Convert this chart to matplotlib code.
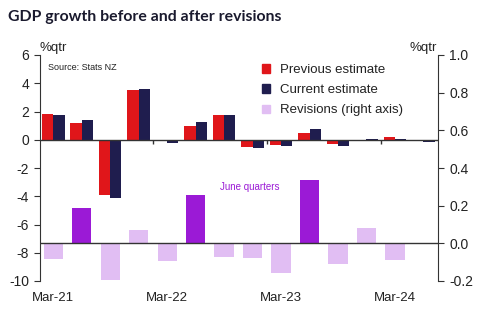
import matplotlib
matplotlib.use("Agg")
import matplotlib.pyplot as plt
from matplotlib.patches import Patch
import numpy as np

quarters = ["Mar-21", "Jun-21", "Sep-21", "Dec-21", "Mar-22", "Jun-22", "Sep-22",
            "Dec-22", "Mar-23", "Jun-23", "Sep-23", "Dec-23", "Mar-24", "Jun-24"]
previous = [1.84, 1.22, -3.94, 3.53, -0.12, 0.99, 1.76, -0.52, -0.35, 0.47, -0.31, 0.0, 0.16, 0.0]
current = [1.74, 1.41, -4.12, 3.60, -0.21, 1.27, 1.72, -0.59, -0.47, 0.78, -0.42, 0.03, 0.07, -0.19]
revisions = [-0.085, 0.19, -0.195, 0.07, -0.095, 0.255, -0.07, -0.078, -0.158, 0.335, -0.108, 0.083, -0.09, 0.0]
xtick_labels = ["Mar-21", "Mar-22", "Mar-23", "Mar-24"]
left_ticks = [6, 4, 2, 0, -2, -4, -6, -8, -10]
right_ticks = [1.0, 0.8, 0.6, 0.4, 0.2, 0.0, -0.2]

RED = "#E0161A"
NAVY = "#1F1D4E"
PURPLE = "#9B1AD6"
LAVENDER = "#E1BEF3"
AXC = "#333333"

plt.rcParams["font.family"] = ["Liberation Sans", "DejaVu Sans"]

fig = plt.figure(figsize=(5.01, 3.22), dpi=100)
ax = fig.add_axes([40/501, 1-281/322, (438-40)/501, (281-55)/322])
ax2 = ax.twinx()

x = np.arange(len(quarters))
w = 0.4
ax.bar(x - w/2, previous, width=w, color=RED, zorder=3)
ax.bar(x + w/2, current, width=w, color=NAVY, zorder=3)

rev_colors = [PURPLE if q.startswith("Jun") else LAVENDER for q in quarters]
ax2.bar(x, revisions, width=0.67, color=rev_colors, zorder=3)

ax.set_ylim(-10, 6)
ax2.set_ylim(-0.2, 1.0)
ax.set_xlim(-0.46, 13.51)

ax.axhline(0, color=AXC, lw=1, zorder=4)
ax2.axhline(0, color=AXC, lw=1, zorder=4)
ax.vlines([3.5, 7.5, 11.5], -0.3, 0, color=AXC, lw=1, zorder=4)

for a in (ax, ax2):
    a.spines["top"].set_visible(False)
    a.spines["bottom"].set_visible(False)
    a.spines["left"].set_color(AXC)
    a.spines["right"].set_color(AXC)
ax2.spines["left"].set_visible(False)
ax.spines["right"].set_visible(False)

ax.set_yticks(left_ticks)
ax.set_yticklabels([str(t) for t in left_ticks])
ax2.set_yticks(right_ticks)
ax2.set_yticklabels([f"{t:.1f}" for t in right_ticks])
ax.tick_params(axis="y", direction="out", length=4, color=AXC, labelsize=10, labelcolor="#222222", pad=4)
ax2.tick_params(axis="y", direction="out", length=4, color=AXC, labelsize=10, labelcolor="#222222", pad=4)

ax.set_xticks([x[quarters.index(l)] for l in xtick_labels])
ax.set_xticklabels(xtick_labels)
ax.tick_params(axis="x", length=0, labelsize=9.5, labelcolor="#222222", pad=8)

fig.text(40/501, 1-48/322, "%qtr", fontsize=9.5, color="#222222", ha="left", va="center")
fig.text(437/501, 1-48/322, "%qtr", fontsize=9.5, color="#222222", ha="right", va="center")
fig.text(8/501, 1-17/322, "GDP growth before and after revisions", fontsize=11.4,
         fontweight="bold", color="#1a1a2e", ha="left", va="center", family=["Lato", "DejaVu Sans"])
ax.text(0.02, 0.945, "Source: Stats NZ", transform=ax.transAxes, fontsize=6.5,
        color="#222222", ha="left", va="center")
fig.text(220/501, 1-187/322, "June quarters", fontsize=7, color=PURPLE, ha="left", va="center")

handles = [Patch(color=RED), Patch(color=NAVY), Patch(color=LAVENDER)]
labels = ["Previous estimate", "Current estimate", "Revisions (right axis)"]
leg = fig.legend(handles, labels, loc="upper left", bbox_to_anchor=(262/501, 1-64/322),
                 frameon=False, fontsize=9.5, handlelength=0.6, handleheight=0.6,
                 handletextpad=0.75, labelspacing=0.62, borderaxespad=0, borderpad=0)
for t in leg.get_texts():
    t.set_color("#222222")

fig.savefig("out.png", dpi=100)
